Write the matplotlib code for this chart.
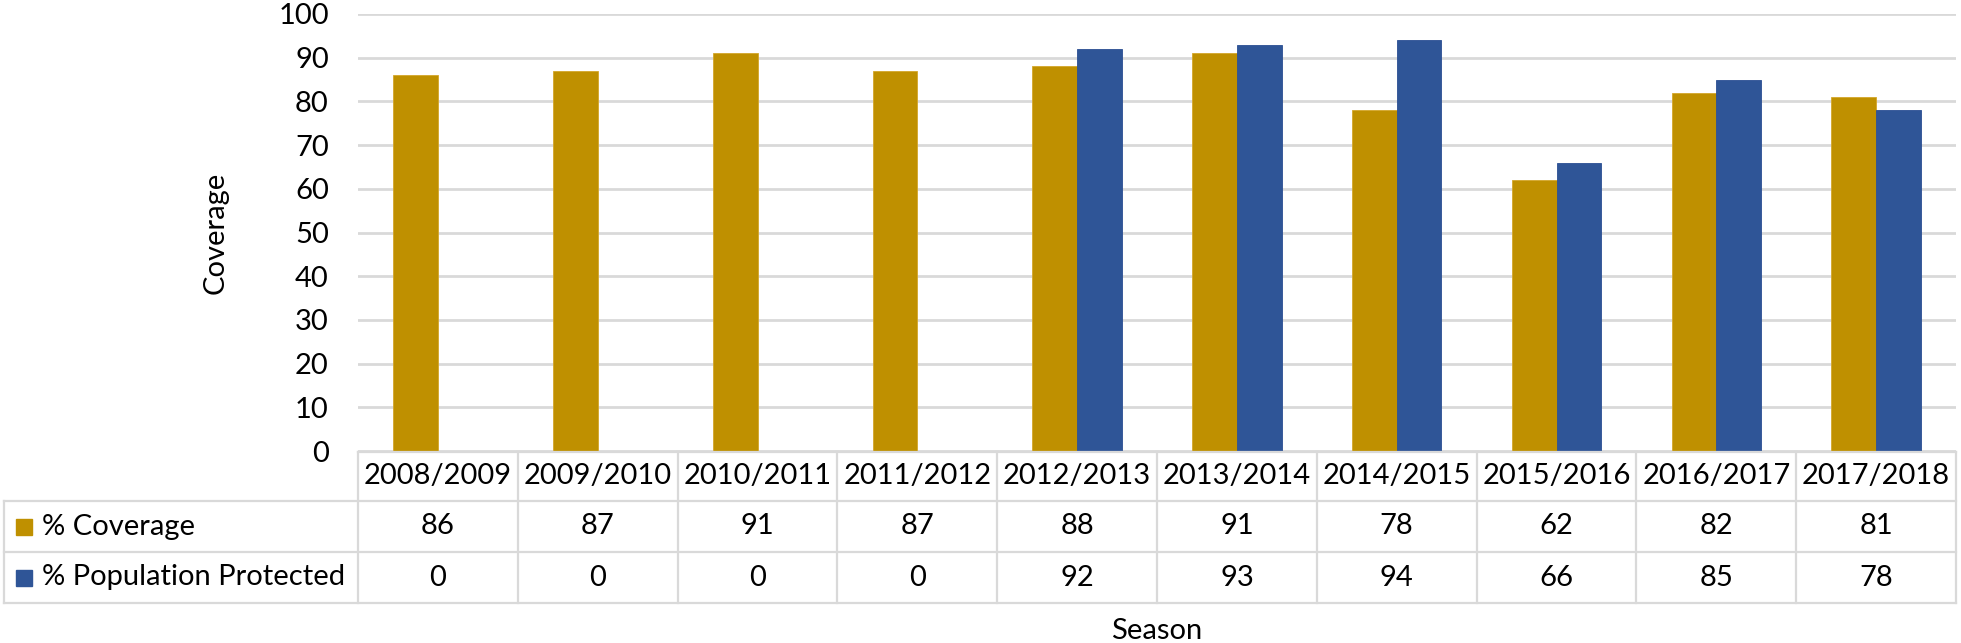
import matplotlib
matplotlib.use("Agg")
import matplotlib.pyplot as plt
from matplotlib.lines import Line2D
from matplotlib.patches import Rectangle
import numpy as np

# Data
seasons = ["2008/2009", "2009/2010", "2010/2011", "2011/2012", "2012/2013",
           "2013/2014", "2014/2015", "2015/2016", "2016/2017", "2017/2018"]
coverage = [86, 87, 91, 87, 88, 91, 78, 62, 82, 81]
protected = [0, 0, 0, 0, 92, 93, 94, 66, 85, 78]
series_names = ["% Coverage", "% Population Protected"]
yticks = [0, 10, 20, 30, 40, 50, 60, 70, 80, 90, 100]

gold = "#BF9000"
blue = "#2F5597"
grid_c = "#D9D9D9"
W, H = 1961, 643
fs = 21

plt.rcParams["font.family"] = ["Lato", "DejaVu Sans"]

fig = plt.figure(figsize=(W / 100, H / 100), dpi=100, facecolor="white")

# pixel helpers (top-left origin)
def fx(x):
    return x / W

def fy(y):
    return 1 - y / H

ax_l, ax_r, ax_t, ax_b = 358, 1956, 14, 451
ax = fig.add_axes([fx(ax_l), fy(ax_b), fx(ax_r) - fx(ax_l), fy(ax_t) - fy(ax_b)])

x = np.arange(len(seasons))
bw = 0.28
ax.bar(x - bw / 2, coverage, bw, color=gold, edgecolor="#D4A62A", linewidth=0.6, zorder=3)
ax.bar(x + bw / 2, protected, bw, color=blue, edgecolor="#2A4E92", linewidth=0.6, zorder=3)

ax.set_xlim(-0.5, len(seasons) - 0.5)
ax.set_ylim(0, 100)
ax.set_yticks(yticks)
ax.set_xticks([])
ax.yaxis.grid(True, color=grid_c, linewidth=2, zorder=0)
ax.tick_params(axis="y", length=0, labelsize=fs, pad=21)
for s in ax.spines.values():
    s.set_visible(False)

fig.text(fx(216), fy((ax_t + ax_b) / 2), "Coverage", rotation=90,
         ha="center", va="center", fontsize=fs)

# data table under the axis
row_y = [452, 501, 552, 603]
col_w = (ax_r - ax_l) / len(seasons)
tbl_left = 4
lw = 1.6

def hline(y, x0, x1):
    fig.add_artist(Line2D([fx(x0), fx(x1)], [fy(y), fy(y)], color=grid_c, lw=lw))

def vline(x0, y0, y1):
    fig.add_artist(Line2D([fx(x0), fx(x0)], [fy(y0), fy(y1)], color=grid_c, lw=lw))

hline(row_y[0], ax_l, ax_r)
for y in row_y[1:]:
    hline(y, tbl_left, ax_r)
vline(tbl_left, row_y[1], row_y[3])
for i in range(len(seasons) + 1):
    vline(ax_l + i * col_w, row_y[0], row_y[3])

for i, s in enumerate(seasons):
    cx = ax_l + (i + 0.5) * col_w
    fig.text(fx(cx), fy((row_y[0] + row_y[1]) / 2), s, ha="center", va="center", fontsize=fs)
    fig.text(fx(cx), fy((row_y[1] + row_y[2]) / 2), str(coverage[i]), ha="center", va="center", fontsize=fs)
    fig.text(fx(cx), fy((row_y[2] + row_y[3]) / 2), str(protected[i]), ha="center", va="center", fontsize=fs)

for j, (name, c) in enumerate(zip(series_names, [gold, blue])):
    cy = (row_y[j + 1] + row_y[j + 2]) / 2
    fig.add_artist(Rectangle((fx(16), fy(cy + 8)), fx(16), 16 / H, color=c))
    fig.text(fx(42), fy(cy), name, ha="left", va="center", fontsize=fs)

fig.text(fx((ax_l + ax_r) / 2), fy(631), "Season", ha="center", va="center", fontsize=fs)

fig.savefig("out.png", dpi=100, facecolor="white")
